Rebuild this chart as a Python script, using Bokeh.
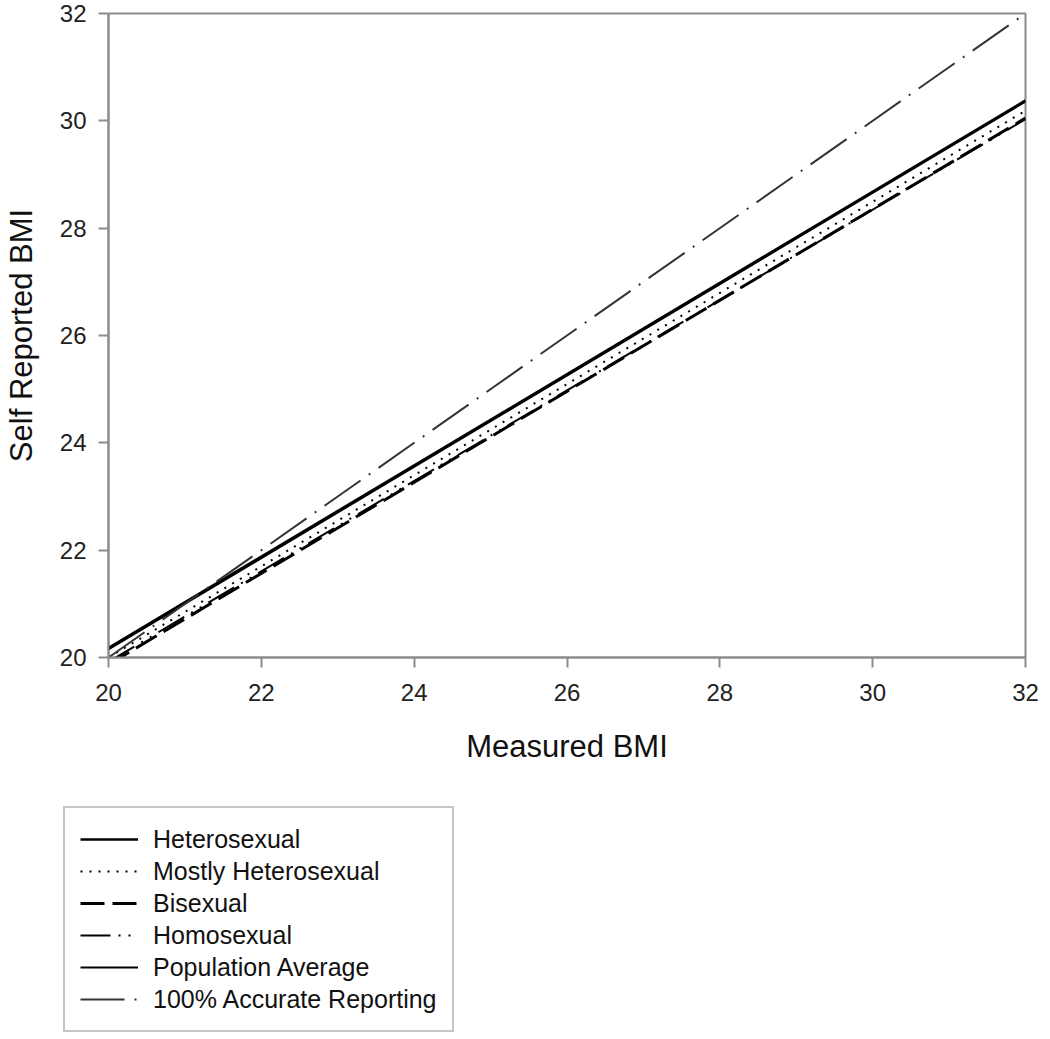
from bokeh.plotting import figure
from bokeh.models import Legend, LegendItem, Range1d, FixedTicker
from bokeh.layouts import column
from bokeh.embed import file_html
from bokeh.resources import INLINE

# Data (endpoints of each fitted line)
measured = [20, 32]
heterosexual = [20.18, 30.38]
mostly_heterosexual = [20.00, 30.19]
bisexual = [19.87, 30.05]
homosexual = [19.92, 30.03]
population_average = [20.15, 30.36]
accurate = [20, 32]

ticks = [20, 22, 24, 26, 28, 30, 32]

series = [
    ("Heterosexual", heterosexual, dict(line_color="black", line_width=2.5)),
    ("Mostly Heterosexual", mostly_heterosexual, dict(line_color="black", line_width=2, line_dash="2 7")),
    ("Bisexual", bisexual, dict(line_color="black", line_width=3, line_dash="24 8")),
    ("Homosexual", homosexual, dict(line_color="black", line_width=2, line_dash="30 8 2 8 2 8")),
    ("Population Average", population_average, dict(line_color="black", line_width=2)),
    ("100% Accurate Reporting", accurate, dict(line_color="#333333", line_width=2, line_dash="44 10 2 10")),
]

FONT = "Liberation Sans"
GRAY = "#8c8c8c"
W = 1042

p = figure(width=W, height=780, output_backend="svg", toolbar_location=None,
           x_range=Range1d(20, 32), y_range=Range1d(20, 32),
           min_border_left=104, min_border_right=17, min_border_top=13, min_border_bottom=123)
p.xgrid.visible = False
p.ygrid.visible = False
p.outline_line_color = GRAY
p.outline_line_width = 2

for name, ys, style in series:
    p.line(measured, ys, **style)

for ax in (p.xaxis[0], p.yaxis[0]):
    ax.ticker = FixedTicker(ticks=ticks)
    ax.axis_line_color = GRAY
    ax.axis_line_width = 2
    ax.major_tick_line_color = GRAY
    ax.major_tick_line_width = 2
    ax.major_tick_out = 10
    ax.major_tick_in = 0
    ax.minor_tick_line_color = None
    ax.major_label_text_font = FONT
    ax.major_label_text_font_size = "24px"
    ax.major_label_text_color = "#222222"
    ax.axis_label_text_font = FONT
    ax.axis_label_text_font_style = "normal"
    ax.axis_label_text_color = "#111111"
    ax.axis_label_text_font_size = "31px"

p.xaxis.axis_label = "Measured BMI"
p.yaxis.axis_label = "Self Reported BMI"
p.xaxis.major_label_standoff = 16
p.xaxis.axis_label_standoff = 25
p.yaxis.major_label_standoff = 12
p.yaxis.axis_label_standoff = 18

# Legend panel below the chart (its own frame, not aligned with the chart's)
lg = figure(width=W, height=255, output_backend="svg", toolbar_location=None,
            x_range=Range1d(0, 1), y_range=Range1d(0, 1),
            min_border_left=0, min_border_right=0, min_border_top=0, min_border_bottom=0)
lg.frame_align = False
lg.axis.visible = False
lg.xgrid.visible = False
lg.ygrid.visible = False
lg.outline_line_color = None

items = []
for name, ys, style in series:
    r = lg.line(measured, ys, **style)  # lies outside this panel's range; only feeds the legend
    items.append(LegendItem(label=name, renderers=[r]))

legend = Legend(items=items, location=(63, 3))
legend.label_text_font = FONT
legend.label_text_font_size = "25px"
legend.label_text_color = "#111111"
legend.glyph_width = 58
legend.glyph_height = 32
legend.label_height = 32
legend.label_standoff = 15
legend.spacing = 0
legend.padding = 15
legend.margin = 0
legend.border_line_color = GRAY
legend.border_line_width = 2
legend.background_fill_color = "white"
lg.add_layout(legend, "center")

open("out.html", "w").write(file_html(column(p, lg, spacing=0), INLINE))
